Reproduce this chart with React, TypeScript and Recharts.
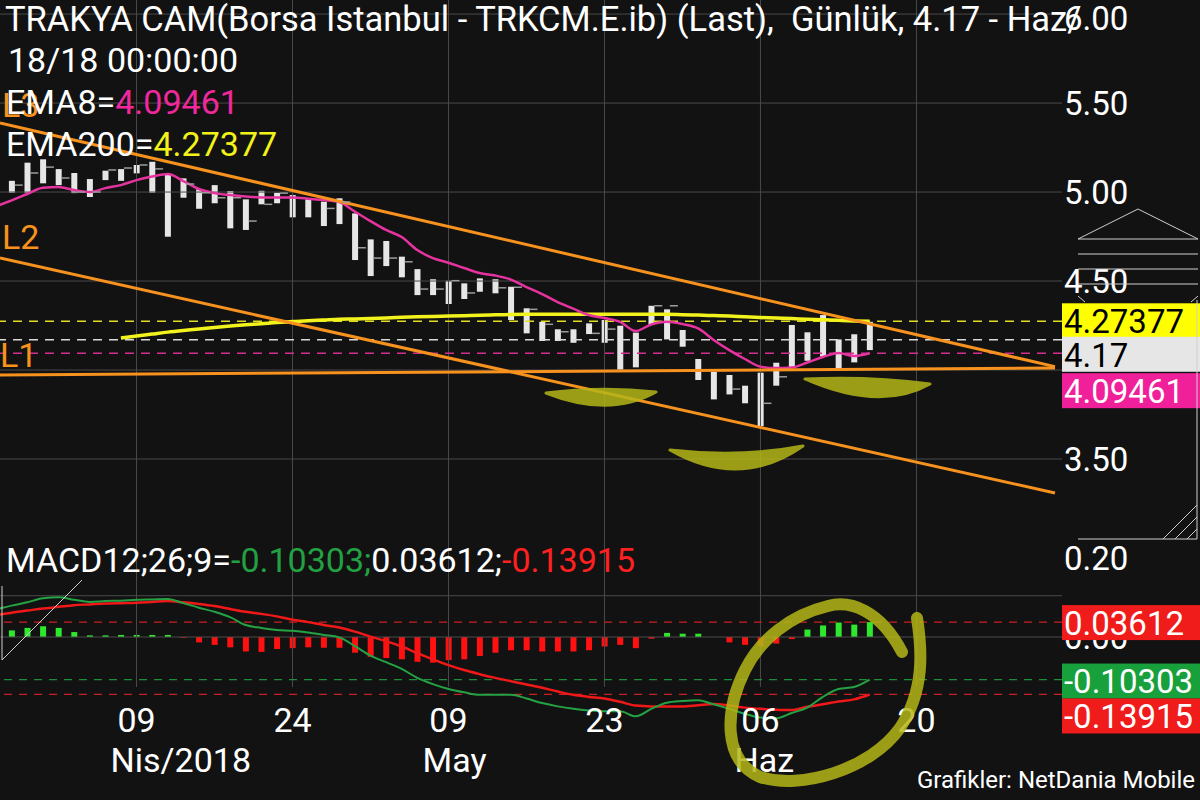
import React from 'react';
import { Bar, Cell, ComposedChart, Line, ReferenceLine, Scatter, XAxis, YAxis } from 'recharts';

// trading days (first one is only used to start the averages at the left edge)
const dates = [
  '27.03', '28.03', '29.03', '30.03', '02.04', '03.04', '04.04', '05.04', '06.04', '09.04',
  '10.04', '11.04', '12.04', '13.04', '16.04', '17.04', '18.04', '19.04', '20.04', '24.04',
  '25.04', '26.04', '27.04', '30.04', '02.05', '03.05', '04.05', '07.05', '08.05', '09.05',
  '10.05', '11.05', '14.05', '15.05', '16.05', '17.05', '18.05', '21.05', '22.05', '23.05',
  '24.05', '25.05', '28.05', '29.05', '30.05', '31.05', '01.06', '04.06', '05.06', '06.06',
  '07.06', '08.06', '11.06', '12.06', '13.06', '14.06', '18.06',
];

const high = [
  null, 5.063, 5.165, 5.184, 5.129, 5.107, 5.073, 5.12, 5.129, 5.152,
  5.17, 5.101, 5.077, 5.015, 5.039, 5.006, 4.959, 5.007, 4.996, 4.983,
  4.959, 4.946, 4.965, 4.88, 4.734, 4.725, 4.637, 4.567, 4.51, 4.502,
  4.487, 4.515, 4.51, 4.468, 4.347, 4.271, 4.229, 4.229, 4.262, 4.281,
  4.249, 4.21, 4.361, 4.341, 4.225, 4.062, 3.99, 3.972, 3.912, 3.985,
  4.041, 4.253, 4.212, 4.309, 4.172, 4.201, 4.271,
];

const low = [
  null, 4.996, 4.996, 5.049, 5.039, 4.994, 4.972, 5.067, 5.063, 5.105,
  4.996, 4.749, 4.968, 4.906, 4.937, 4.796, 4.787, 4.931, 4.937, 4.858,
  4.858, 4.809, 4.82, 4.618, 4.528, 4.584, 4.521, 4.421, 4.421, 4.371,
  4.399, 4.44, 4.431, 4.281, 4.206, 4.163, 4.163, 4.153, 4.202, 4.153,
  4.0, 4.015, 4.253, 4.172, 4.131, 3.944, 3.835, 3.863, 3.813, 3.685,
  3.912, 4.013, 4.052, 4.075, 4.01, 4.043, 4.112,
];

const closeTick = [
  null, 5.039, 5.107, 5.14, 5.079, 5.0, 5.0, 5.124, 5.135, 5.152,
  5.13, null, 5.045, 4.996, 4.968, 4.968, 4.837, 4.931, 4.994, null,
  null, 4.908, 4.944, 4.687, 4.629, 4.629, 4.608, 4.455, 4.455, 4.502,
  4.433, null, 4.462, 4.465, 4.341, 4.257, 4.215, null, 4.206, 4.23,
  null, null, 4.361, 4.361, null, null, null, 3.893, null, 3.813,
  3.962, null, null, null, null, null, null,
];

const ema8 = [
  4.92, 4.953, 4.989, 5.024, 5.028, 5.011, 5.0, 5.022, 5.039, 5.067,
  5.087, 5.101, 5.062, 5.017, 4.994, 4.983, 4.975, 4.97, 4.97, 4.969,
  4.963, 4.955, 4.944, 4.89, 4.837, 4.787, 4.747, 4.674, 4.629, 4.603,
  4.573, 4.545, 4.531, 4.508, 4.466, 4.427, 4.382, 4.345, 4.309, 4.292,
  4.271, 4.219, 4.256, 4.271, 4.258, 4.234, 4.169, 4.112, 4.062, 4.019,
  4.011, 4.014, 4.042, 4.073, 4.096, 4.079, 4.09461,
];

const ema200 = [
  null, null, null, null, null, null, null, null, 4.18, 4.191,
  4.202, 4.213, 4.222, 4.23, 4.239, 4.247, 4.254, 4.26, 4.267, 4.272,
  4.277, 4.281, 4.285, 4.287, 4.29, 4.293, 4.296, 4.299, 4.301, 4.303,
  4.305, 4.308, 4.31, 4.312, 4.313, 4.313, 4.313, 4.313, 4.313, 4.313,
  4.313, 4.313, 4.313, 4.313, 4.311, 4.309, 4.306, 4.303, 4.299, 4.295,
  4.292, 4.289, 4.285, 4.282, 4.279, 4.276, 4.27377,
];

const macd = [
  0.067, 0.076, 0.084, 0.094, 0.096, 0.09, 0.085, 0.087, 0.088, 0.09,
  0.091, 0.092, 0.082, 0.071, 0.061, 0.048, 0.029, 0.022, 0.017, 0.015,
  0.011, 0.005, -0.001, -0.022, -0.045, -0.061, -0.077, -0.099, -0.114, -0.126,
  -0.134, -0.14, -0.14, -0.14, -0.149, -0.16, -0.168, -0.174, -0.178, -0.18,
  -0.18, -0.192, -0.174, -0.159, -0.155, -0.153, -0.163, -0.174, -0.186, -0.195,
  -0.197, -0.184, -0.171, -0.145, -0.126, -0.121, -0.10303,
];

const signal = [
  0.053, 0.059, 0.064, 0.069, 0.073, 0.077, 0.079, 0.081, 0.082, 0.083,
  0.085, 0.087, 0.084, 0.08, 0.075, 0.068, 0.061, 0.056, 0.05, 0.042,
  0.036, 0.029, 0.023, 0.013, 0.001, -0.01, -0.023, -0.039, -0.054, -0.068,
  -0.08, -0.09, -0.099, -0.107, -0.115, -0.123, -0.132, -0.14, -0.145, -0.149,
  -0.157, -0.166, -0.168, -0.168, -0.168, -0.165, -0.162, -0.166, -0.171, -0.174,
  -0.176, -0.177, -0.169, -0.163, -0.156, -0.151, -0.13915,
];

const histogram = [
  null, 0.016, 0.022, 0.026, 0.022, 0.012, 0.004, 0.004, 0.005, 0.005,
  0.005, 0.005, -0.002, -0.013, -0.019, -0.025, -0.035, -0.036, -0.029, -0.027,
  -0.025, -0.026, -0.026, -0.038, -0.048, -0.051, -0.054, -0.06, -0.062, -0.056,
  -0.054, -0.046, -0.038, -0.032, -0.032, -0.035, -0.035, -0.035, -0.032, -0.023,
  -0.019, -0.027, -0.004, 0.01, 0.008, 0.008, 0, -0.013, -0.019, -0.022,
  -0.016, -0.005, 0.018, 0.028, 0.035, 0.03, 0.03612,
];

const xTicks = [8, 18, 28, 38, 48, 58];
const xDays = ['09', '24', '09', '23', '06', '20'];
const xMonths = ['Nis/2018', '', 'May', '', 'Haz', ''];
const priceTicks = [3.5, 4.5, 5.0, 5.5, 6.0];
const priceGrid = [3.5, 4.0, 4.5, 5.0, 5.5, 6.0];
const macdTicks = [0, 0.1, 0.2];
const macdGrid = [0, 0.1];

// hand drawn channel lines in (day index, price)
const trendLines = [
  { name: 'L3', x1: -0.75, y1: 5.388, x2: 66.88, y2: 4.019 },
  { name: 'L2', x1: -0.75, y1: 4.629, x2: 66.88, y2: 3.309 },
  { name: 'L1', x1: -0.75, y1: 3.972, x2: 66.88, y2: 4.011 },
];

const priceMarkers = [
  { value: 4.27377, text: '4.27377', line: '#dede22', bg: '#ffff00', fg: '#000', shift: -1 },
  { value: 4.17, text: '4.17', line: '#d8d8d8', bg: '#e6e6e6', fg: '#000', shift: 14 },
  { value: 4.09461, text: '4.09461', line: '#d2308f', bg: '#f0209a', fg: '#fff', shift: 37 },
];

const macdMarkers = [
  { value: 0.03612, text: '0.03612', line: '#c82020', bg: '#f01c1c', fg: '#fff', shift: 0 },
  { value: -0.10303, text: '-0.10303', line: '#1d8f3a', bg: '#17a03c', fg: '#fff', shift: 1 },
  { value: -0.13915, text: '-0.13915', line: '#c82020', bg: '#f01c1c', fg: '#fff', shift: 21 },
];

const xDomain: [number, number] = [-0.75, 67.33];
const priceDomain: [number, number] = [3.045, 6.079];
const macdDomain: [number, number] = [-0.2494, 0.2349];

const FONT = 'Roboto, "Noto Sans", sans-serif';
const GRID = '#4a4a4a';
const ORANGE = '#f7921e';

const data = dates.map((d, k) => ({
  i: k - 1,
  date: d,
  range: high[k] == null ? null : [low[k], high[k]],
  tick: closeTick[k],
  ema8: ema8[k],
  ema200: ema200[k],
  macd: macd[k],
  signal: signal[k],
  hist: histogram[k],
}));

function ValueBox(props: any) {
  const { viewBox, text, bg, fg, shift } = props;
  if (!viewBox) return null;
  const x = viewBox.x + viewBox.width;
  const cy = viewBox.y + shift;
  return (
    <g>
      <rect x={x} y={cy - 17} width={138} height={35} fill={bg} />
      <text x={x + 2} y={cy + 1} dy="0.36em" fill={fg} fontSize={33} fontFamily={FONT}>
        {text}
      </text>
    </g>
  );
}

function CloseTick(props: any) {
  const { cx, cy, payload } = props;
  if (payload?.tick == null || cx == null || cy == null || isNaN(cy)) return <g />;
  return <line x1={cx + 3} x2={cx + 11} y1={cy} y2={cy} stroke="#9c9c9c" strokeWidth={1.5} />;
}

function DateTick(props: any) {
  const { x, y, payload } = props;
  const k = xTicks.indexOf(payload.value);
  if (k < 0) return null;
  return (
    <g fontFamily={FONT} fontSize={34} fill="#fff">
      <text x={x} y={y - 28} dy="0.36em" textAnchor="middle">
        {xDays[k]}
      </text>
      {xMonths[k] && (
        <text x={x - 26} y={y + 12} dy="0.36em" textAnchor="start">
          {xMonths[k]}
        </text>
      )}
    </g>
  );
}

const txt = (top: number, left: number, size = 34): React.CSSProperties => ({
  position: 'absolute',
  top,
  left,
  fontSize: size,
  lineHeight: `${size}px`,
  whiteSpace: 'pre',
  color: '#fff',
  fontFamily: FONT,
});

const layer: React.CSSProperties = { position: 'absolute', left: 0 };

export default function App() {
  return (
    <div style={{ position: 'absolute', left: 0, top: 0, width: 1200, height: 800, background: '#121212', overflow: 'hidden' }}>
      {/* price panel */}
      <div style={{ ...layer, top: 0 }}>
        <ComposedChart width={1200} height={540} data={data} margin={{ top: 0, right: 0, bottom: 0, left: 0 }}>
          <XAxis type="number" dataKey="i" domain={xDomain} hide allowDataOverflow />
          <YAxis
            orientation="right"
            width={138}
            domain={priceDomain}
            allowDataOverflow
            ticks={priceTicks}
            tickFormatter={(v) => v.toFixed(2)}
            axisLine={false}
            tickLine={false}
            tickSize={0}
            tickMargin={2}
            tick={{ fill: '#fff', fontSize: 33, fontFamily: FONT }}
          />
          {priceGrid.map((v) => (
            <ReferenceLine key={`pg${v}`} y={v} stroke={GRID} strokeWidth={1} />
          ))}
          {xTicks.map((t) => (
            <ReferenceLine key={`px${t}`} x={t} stroke={GRID} strokeWidth={1} />
          ))}
          {priceMarkers.map((m) => (
            <ReferenceLine key={m.text} y={m.value} stroke={m.line} strokeWidth={1.5} strokeDasharray="9 7" />
          ))}
          <Bar dataKey="range" fill="#e6e6e6" barSize={6} isAnimationActive={false} />
          <Scatter dataKey="tick" shape={<CloseTick />} isAnimationActive={false} />
          <Line type="monotone" dataKey="ema200" stroke="#f2f21c" strokeWidth={3.5} dot={false} isAnimationActive={false} />
          <Line type="monotone" dataKey="ema8" stroke="#e6339f" strokeWidth={2.5} dot={false} isAnimationActive={false} />
          {trendLines.map((l) => (
            <ReferenceLine
              key={l.name}
              segment={[
                { x: l.x1, y: l.y1 },
                { x: l.x2, y: l.y2 },
              ]}
              stroke={ORANGE}
              strokeWidth={3}
              ifOverflow="visible"
            />
          ))}
        </ComposedChart>
      </div>

      {/* MACD panel */}
      <div style={{ ...layer, top: 540 }}>
        <ComposedChart width={1200} height={260} data={data} margin={{ top: 0, right: 0, bottom: 0, left: 0 }}>
          <XAxis
            type="number"
            dataKey="i"
            domain={xDomain}
            allowDataOverflow
            ticks={xTicks}
            height={60}
            axisLine={false}
            tickLine={false}
            tick={<DateTick />}
            interval={0}
          />
          <YAxis
            orientation="right"
            width={138}
            domain={macdDomain}
            allowDataOverflow
            ticks={macdTicks}
            tickFormatter={(v) => v.toFixed(2)}
            axisLine={false}
            tickLine={false}
            tickSize={0}
            tickMargin={2}
            tick={{ fill: '#fff', fontSize: 33, fontFamily: FONT }}
          />
          {macdGrid.map((v) => (
            <ReferenceLine key={`mg${v}`} y={v} stroke={GRID} strokeWidth={1} />
          ))}
          {xTicks.map((t) => (
            <ReferenceLine
              key={`mx${t}`}
              segment={[
                { x: t, y: macdDomain[1] },
                { x: t, y: -0.121 },
              ]}
              stroke={GRID}
              strokeWidth={1}
              ifOverflow="visible"
            />
          ))}
          {macdMarkers.map((m) => (
            <ReferenceLine key={m.text} y={m.value} stroke={m.line} strokeWidth={1.2} strokeDasharray="8 7" />
          ))}
          <Bar dataKey="hist" barSize={6} isAnimationActive={false}>
            {data.map((d) => (
              <Cell key={d.date} fill={(d.hist ?? 0) >= 0 ? '#2ee82e' : '#ff1111'} />
            ))}
          </Bar>
          <Line type="monotone" dataKey="signal" stroke="#f01818" strokeWidth={2.5} dot={false} isAnimationActive={false} />
          <Line type="monotone" dataKey="macd" stroke="#25a244" strokeWidth={2} dot={false} isAnimationActive={false} />
        </ComposedChart>
      </div>

      {/* last value boxes, kept above the axis labels */}
      <div style={{ ...layer, top: 0 }}>
        <ComposedChart width={1200} height={540} data={data} margin={{ top: 0, right: 138, bottom: 0, left: 0 }}>
          <XAxis type="number" dataKey="i" domain={xDomain} hide allowDataOverflow />
          <YAxis domain={priceDomain} hide allowDataOverflow />
          {priceMarkers.map((m) => (
            <ReferenceLine
              key={m.text}
              y={m.value}
              stroke="none"
              label={<ValueBox text={m.text} bg={m.bg} fg={m.fg} shift={m.shift} />}
            />
          ))}
        </ComposedChart>
      </div>
      <div style={{ ...layer, top: 540 }}>
        <ComposedChart width={1200} height={260} data={data} margin={{ top: 0, right: 138, bottom: 60, left: 0 }}>
          <XAxis type="number" dataKey="i" domain={xDomain} hide allowDataOverflow />
          <YAxis domain={macdDomain} hide allowDataOverflow />
          {macdMarkers.map((m) => (
            <ReferenceLine
              key={m.text}
              y={m.value}
              stroke="none"
              label={<ValueBox text={m.text} bg={m.bg} fg={m.fg} shift={m.shift} />}
            />
          ))}
        </ComposedChart>
      </div>

      {/* header texts */}
      <div style={txt(88, 2)}>
        <span style={{ color: ORANGE }}>L3</span>
      </div>
      <div style={txt(220, 2)}>
        <span style={{ color: ORANGE }}>L2</span>
      </div>
      <div style={txt(338, 0)}>
        <span style={{ color: ORANGE }}>L1</span>
      </div>
      <div style={txt(2, 5, 34.5)}>{'TRAKYA CAM(Borsa Istanbul - TRKCM.E.ib) (Last),  Günlük, 4.17 - Haz/'}</div>
      <div style={txt(43, 8)}>18/18 00:00:00</div>
      <div style={txt(85, 6)}>
        EMA8=<span style={{ color: '#f0289c' }}>4.09461</span>
      </div>
      <div style={txt(127, 6)}>
        EMA200=<span style={{ color: '#f2f21a' }}>4.27377</span>
      </div>
      <div style={txt(543, 6)}>
        MACD12;26;9=<span style={{ color: '#22a042' }}>-0.10303;</span>0.03612;<span style={{ color: '#ff2020' }}>-0.13915</span>
      </div>
      <div style={{ ...txt(768, 0, 24), left: 'auto', right: 5 }}>Grafikler: NetDania Mobile</div>

      {/* widgets and hand drawn highlights */}
      <svg width={1200} height={800} style={{ position: 'absolute', left: 0, top: 0, pointerEvents: 'none' }}>
        <g stroke="#cfcfcf" strokeWidth={1} fill="none">
          <polyline points="1078,239 1138,209 1198,239" />
          <line x1={1078} y1={239} x2={1198} y2={239} />
          <line x1={1078} y1={254} x2={1198} y2={254} />
          <line x1={1078} y1={269} x2={1198} y2={269} />
          <line x1={1078} y1={284} x2={1198} y2={284} />
          <polyline points="1078,296 1085,302" />
          <polyline points="1198,296 1191,302" />
          <line x1={1197} y1={300} x2={1197} y2={539} />
          <line x1={1078} y1={539} x2={1197} y2={539} />
          <line x1={1163} y1={539} x2={1197} y2={505} />
          <line x1={1175} y1={539} x2={1197} y2={517} />
          <line x1={1187} y1={539} x2={1197} y2={529} />
          <line x1={2} y1={586} x2={2} y2={660} />
          <line x1={2} y1={660} x2={82} y2={580} />
        </g>
        <g fill="#b4b617" stroke="#b4b617" opacity={0.85} strokeLinejoin="round" strokeLinecap="round">
          <path d="M 546 393 Q 600 386 656 392 Q 610 418 546 393 Z" strokeWidth={3} />
          <path d="M 670 450 Q 740 458 803 446 Q 740 490 670 450 Z" strokeWidth={3} />
          <path d="M 805 379 Q 870 376 930 384 Q 880 412 805 379 Z" strokeWidth={3} />
          <path
            d="M 902 652 C 880 610, 850 600, 828 606 C 790 615, 760 640, 745 670 C 725 710, 722 760, 760 777 C 800 790, 870 770, 900 728 C 925 690, 922 650, 917 618"
            fill="none"
            strokeWidth={12}
          />
        </g>
      </svg>
    </div>
  );
}
